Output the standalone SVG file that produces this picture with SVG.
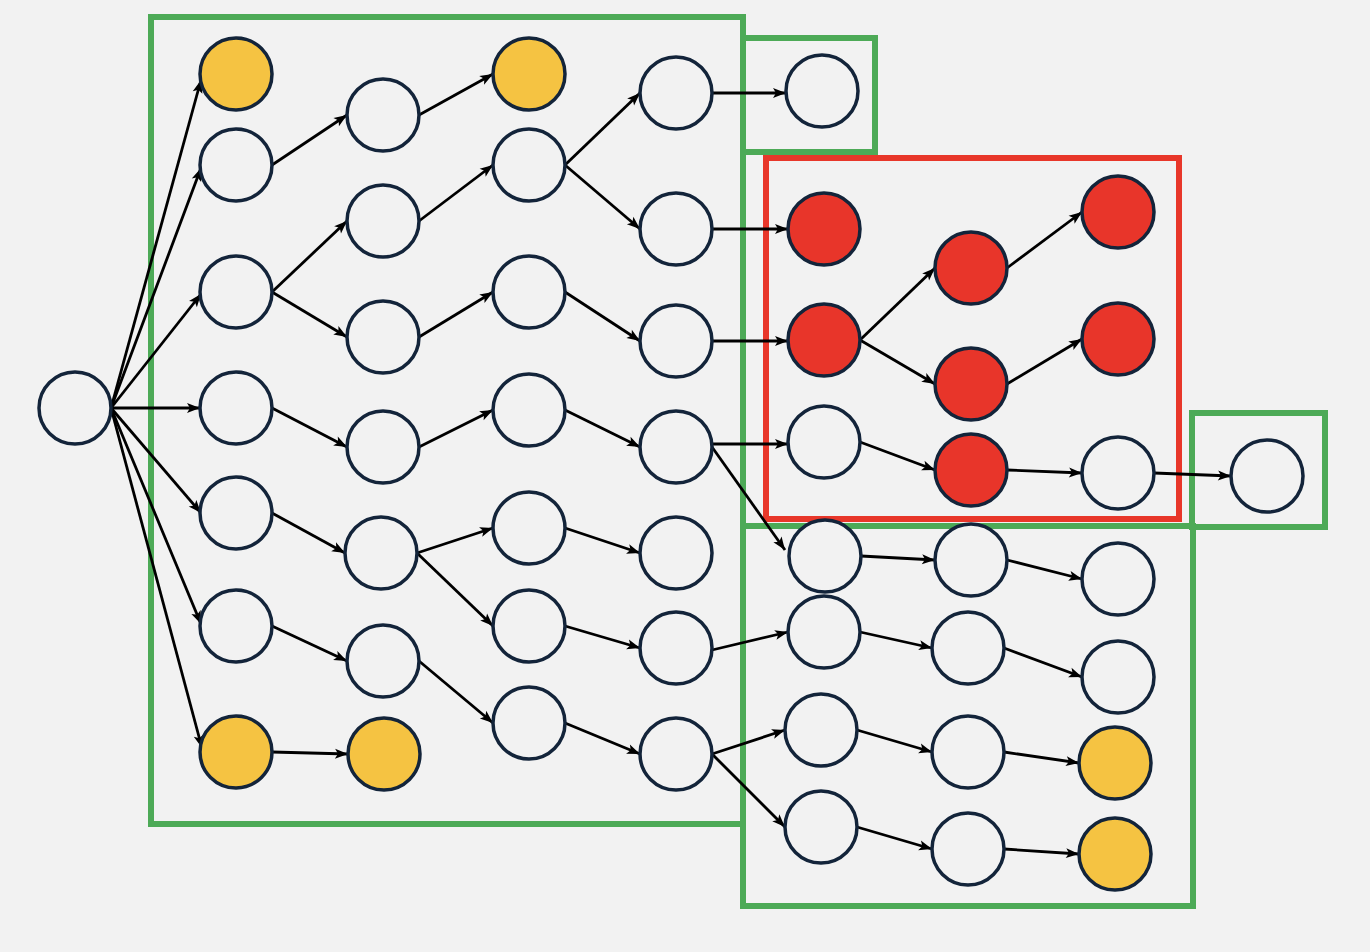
<svg xmlns="http://www.w3.org/2000/svg" width="1370" height="952" viewBox="0 0 1370 952">
<defs>
<marker id="ah" markerUnits="userSpaceOnUse" markerWidth="30" markerHeight="20" refX="13" refY="0" orient="auto" overflow="visible" viewBox="0 -10 30 20"><path d="M0,-5 L13,0 L0,5 L3,0 z" fill="#000"/></marker>
<style>
.e line{stroke:#000;stroke-width:2.8;marker-end:url(#ah)}
circle{stroke:#13243a;stroke-width:3.5;fill:#f2f2f2}
.y{fill:#f5c342}.r{fill:#e8352a}
.gb{fill:none;stroke:#4daa57;stroke-width:6}
.rb{fill:none;stroke:#e8372a;stroke-width:6}
</style>
</defs>
<rect width="1370" height="952" fill="#f2f2f2"/>
<g id="boxes">
<rect class="gb" x="151" y="17" width="592" height="807"/>
<rect class="gb" x="743" y="38" width="132" height="114"/>
<rect class="gb" x="743" y="526" width="450" height="380"/>
<rect class="gb" x="1192" y="413" width="133" height="114"/>
<rect class="rb" x="766" y="158" width="413" height="361"/>
</g>
<g id="connectors" class="e">
<line x1="111" y1="408" x2="201" y2="80"/><line x1="111" y1="408" x2="201" y2="168"/><line x1="111" y1="408" x2="201" y2="294"/><line x1="111" y1="408" x2="200" y2="408"/><line x1="111" y1="408" x2="201" y2="513"/><line x1="111" y1="408" x2="201" y2="624"/><line x1="111" y1="408" x2="202" y2="748"/>
<line x1="272" y1="165" x2="347" y2="115"/><line x1="419" y1="115" x2="493" y2="74"/>
<line x1="272" y1="292" x2="347" y2="221"/><line x1="272" y1="292" x2="347" y2="337"/>
<line x1="419" y1="221" x2="493" y2="165"/><line x1="419" y1="337" x2="493" y2="292"/>
<line x1="565" y1="165" x2="640" y2="93"/><line x1="565" y1="165" x2="640" y2="229"/><line x1="565" y1="292" x2="640" y2="341"/>
<line x1="272" y1="408" x2="347" y2="447"/><line x1="419" y1="447" x2="493" y2="410"/><line x1="565" y1="410" x2="640" y2="447"/>
<line x1="272" y1="513" x2="345" y2="553"/><line x1="417" y1="553" x2="493" y2="528"/><line x1="417" y1="553" x2="493" y2="626"/>
<line x1="565" y1="528" x2="640" y2="553"/><line x1="565" y1="626" x2="640" y2="648"/>
<line x1="272" y1="626" x2="347" y2="661"/><line x1="419" y1="661" x2="493" y2="723"/><line x1="565" y1="723" x2="640" y2="754"/>
<line x1="272" y1="752" x2="348" y2="754"/>
<line x1="712" y1="93" x2="786" y2="93"/><line x1="712" y1="229" x2="788" y2="229"/><line x1="712" y1="341" x2="788" y2="341"/>
<line x1="712" y1="444" x2="788" y2="444"/><line x1="712" y1="447" x2="785" y2="550"/>
<line x1="712" y1="650" x2="788" y2="632"/><line x1="712" y1="754" x2="785" y2="730"/><line x1="712" y1="754" x2="785" y2="827"/>
<line x1="860" y1="340" x2="935" y2="268"/><line x1="860" y1="340" x2="935" y2="384"/>
<line x1="1007" y1="268" x2="1082" y2="212"/><line x1="1007" y1="384" x2="1082" y2="339"/>
<line x1="860" y1="442" x2="935" y2="470"/><line x1="1007" y1="470" x2="1082" y2="473"/><line x1="1154" y1="473" x2="1231" y2="476"/>
<line x1="861" y1="556" x2="935" y2="560"/><line x1="1007" y1="560" x2="1082" y2="579"/>
<line x1="860" y1="632" x2="932" y2="648"/><line x1="1004" y1="648" x2="1082" y2="677"/>
<line x1="857" y1="730" x2="932" y2="752"/><line x1="1004" y1="752" x2="1079" y2="763"/>
<line x1="857" y1="827" x2="932" y2="849"/><line x1="1004" y1="849" x2="1079" y2="854"/>
</g>
<g id="nodes">
<g id="root"><circle cx="75" cy="408" r="36"/></g>
<g id="A1"><circle class="y" cx="236" cy="74" r="36"/></g>
<g id="A2"><circle cx="236" cy="165" r="36"/></g>
<g id="A3"><circle cx="236" cy="292" r="36"/></g>
<g id="A4"><circle cx="236" cy="408" r="36"/></g>
<g id="A5"><circle cx="236" cy="513" r="36"/></g>
<g id="A6"><circle cx="236" cy="626" r="36"/></g>
<g id="A7"><circle class="y" cx="236" cy="752" r="36"/></g>
<g id="B1"><circle cx="383" cy="115" r="36"/></g>
<g id="B2"><circle cx="383" cy="221" r="36"/></g>
<g id="B3"><circle cx="383" cy="337" r="36"/></g>
<g id="B4"><circle cx="383" cy="447" r="36"/></g>
<g id="B5"><circle cx="381" cy="553" r="36"/></g>
<g id="B6"><circle cx="383" cy="661" r="36"/></g>
<g id="B7"><circle class="y" cx="384" cy="754" r="36"/></g>
<g id="C1"><circle class="y" cx="529" cy="74" r="36"/></g>
<g id="C2"><circle cx="529" cy="165" r="36"/></g>
<g id="C3"><circle cx="529" cy="292" r="36"/></g>
<g id="C4"><circle cx="529" cy="410" r="36"/></g>
<g id="C5"><circle cx="529" cy="528" r="36"/></g>
<g id="C6"><circle cx="529" cy="626" r="36"/></g>
<g id="C7"><circle cx="529" cy="723" r="36"/></g>
<g id="D1"><circle cx="676" cy="93" r="36"/></g>
<g id="D2"><circle cx="676" cy="229" r="36"/></g>
<g id="D3"><circle cx="676" cy="341" r="36"/></g>
<g id="D4"><circle cx="676" cy="447" r="36"/></g>
<g id="D5"><circle cx="676" cy="553" r="36"/></g>
<g id="D6"><circle cx="676" cy="648" r="36"/></g>
<g id="D7"><circle cx="676" cy="754" r="36"/></g>
<g id="E1"><circle cx="822" cy="91" r="36"/></g>
<g id="E2"><circle class="r" cx="824" cy="229" r="36"/></g>
<g id="E3"><circle class="r" cx="824" cy="340" r="36"/></g>
<g id="E4"><circle cx="824" cy="442" r="36"/></g>
<g id="E5"><circle cx="825" cy="556" r="36"/></g>
<g id="E6"><circle cx="824" cy="632" r="36"/></g>
<g id="E7"><circle cx="821" cy="730" r="36"/></g>
<g id="E8"><circle cx="821" cy="827" r="36"/></g>
<g id="F1"><circle class="r" cx="971" cy="268" r="36"/></g>
<g id="F2"><circle class="r" cx="971" cy="384" r="36"/></g>
<g id="F3"><circle class="r" cx="971" cy="470" r="36"/></g>
<g id="F4"><circle cx="971" cy="560" r="36"/></g>
<g id="F5"><circle cx="968" cy="648" r="36"/></g>
<g id="F6"><circle cx="968" cy="752" r="36"/></g>
<g id="F7"><circle cx="968" cy="849" r="36"/></g>
<g id="G1"><circle class="r" cx="1118" cy="212" r="36"/></g>
<g id="G2"><circle class="r" cx="1118" cy="339" r="36"/></g>
<g id="G3"><circle cx="1118" cy="473" r="36"/></g>
<g id="G4"><circle cx="1118" cy="579" r="36"/></g>
<g id="G5"><circle cx="1118" cy="677" r="36"/></g>
<g id="G6"><circle class="y" cx="1115" cy="763" r="36"/></g>
<g id="G7"><circle class="y" cx="1115" cy="854" r="36"/></g>
<g id="H"><circle cx="1267" cy="476" r="36"/></g>
</g>
</svg>
